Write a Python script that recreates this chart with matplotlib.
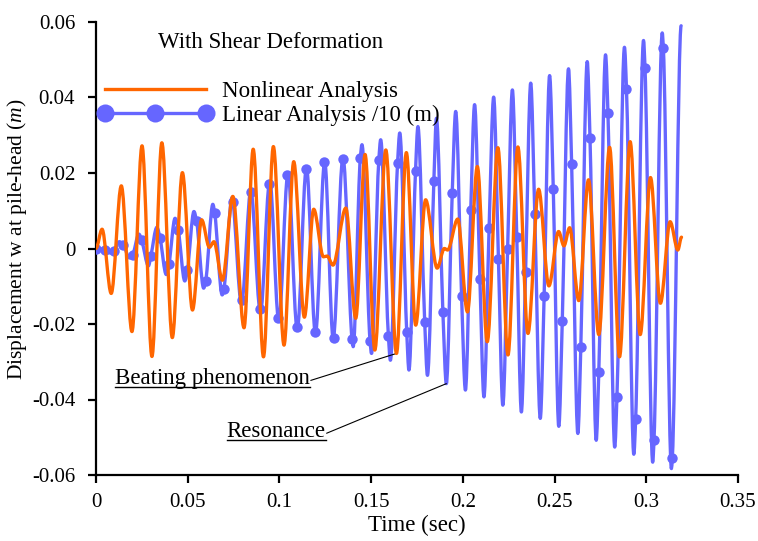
import numpy as np
import matplotlib
matplotlib.use('Agg')
import matplotlib.pyplot as plt
from matplotlib.path import Path
from matplotlib.patches import PathPatch
from matplotlib.lines import Line2D
from matplotlib.transforms import IdentityTransform

plt.rcParams['font.family'] = ['Liberation Serif', 'DejaVu Serif']
plt.rcParams['mathtext.fontset'] = 'custom'
plt.rcParams['mathtext.rm'] = 'Liberation Serif'
plt.rcParams['mathtext.it'] = 'Liberation Serif:italic'
plt.rcParams['axes.unicode_minus'] = False

# ---------------- data ----------------
# Nonlinear analysis: successive turning points (time s, displacement m)
nonlinear_t = [0.0000, 0.0033, 0.0083, 0.0138, 0.0196, 0.0251, 0.0305, 0.0359, 0.0416, 0.0471,
               0.0526, 0.0576, 0.0618, 0.0643, 0.0689, 0.0746, 0.0807, 0.0857, 0.0913, 0.0967,
               0.1025, 0.1078, 0.1136, 0.1187, 0.1240, 0.1260, 0.1292, 0.1362, 0.1416, 0.1467,
               0.1520, 0.1580, 0.1638, 0.1692, 0.1743, 0.1797, 0.1860, 0.1899, 0.1917, 0.1972,
               0.2025, 0.2079, 0.2133, 0.2191, 0.2246, 0.2300, 0.2355, 0.2413, 0.2469, 0.2522,
               0.2551, 0.2582, 0.2632, 0.2685, 0.2741, 0.2800, 0.2854, 0.2912, 0.2967, 0.3023,
               0.3077, 0.3130, 0.3172, 0.3192]
nonlinear_v = [0.0000, 0.0051, -0.0119, 0.0166, -0.0220, 0.0272, -0.0286, 0.0280, -0.0236, 0.0201,
               -0.0163, 0.0076, 0.0003, 0.0018, -0.0084, 0.0138, -0.0210, 0.0263, -0.0287, 0.0270,
               -0.0256, 0.0230, -0.0182, 0.0104, -0.0022, -0.0020, -0.0044, 0.0107, -0.0185, 0.0249,
               -0.0269, 0.0261, -0.0278, 0.0254, -0.0203, 0.0129, -0.0052, 0.0000, -0.0004, 0.0078,
               -0.0168, 0.0217, -0.0247, 0.0267, -0.0282, 0.0269, -0.0225, 0.0157, -0.0099, 0.0045,
               0.0007, 0.0055, -0.0138, 0.0182, -0.0228, 0.0268, -0.0287, 0.0283, -0.0228, 0.0188,
               -0.0145, 0.0071, -0.0004, 0.0030]

# Linear analysis /10: successive turning points
linear_t = [0.0000, 0.0079, 0.0127, 0.0183, 0.0234, 0.0286, 0.0332, 0.0383, 0.0431, 0.0484,
            0.0534, 0.0587, 0.0637, 0.0688, 0.0742, 0.0792, 0.0844, 0.0897, 0.0948, 0.0997,
            0.1047, 0.1098, 0.1148, 0.1197, 0.1247, 0.1293, 0.1347, 0.1402, 0.1450, 0.1502,
            0.1552, 0.1605, 0.1656, 0.1706, 0.1755, 0.1807, 0.1856, 0.1910, 0.1961, 0.2014,
            0.2064, 0.2115, 0.2168, 0.2218, 0.2270, 0.2319, 0.2370, 0.2422, 0.2473, 0.2523,
            0.2576, 0.2627, 0.2678, 0.2727, 0.2778, 0.2828, 0.2881, 0.2932, 0.2985, 0.3035,
            0.3087, 0.3137, 0.3190]
linear_v = [0.0000, -0.0012, 0.0018, -0.0025, 0.0038, -0.0046, 0.0056, -0.0069, 0.0080, -0.0086,
            0.0098, -0.0105, 0.0117, -0.0123, 0.0135, -0.0141, 0.0154, -0.0168, 0.0177, -0.0192,
            0.0199, -0.0212, 0.0213, -0.0223, 0.0230, -0.0238, 0.0239, -0.0260, 0.0275, -0.0278,
            0.0288, -0.0296, 0.0306, -0.0322, 0.0323, -0.0336, 0.0345, -0.0358, 0.0363, -0.0375,
            0.0381, -0.0393, 0.0401, -0.0415, 0.0420, -0.0433, 0.0438, -0.0450, 0.0458, -0.0471,
            0.0476, -0.0490, 0.0495, -0.0508, 0.0513, -0.0526, 0.0533, -0.0545, 0.0551, -0.0566,
            0.0571, -0.0583, 0.0590]

# Linear analysis /10: marker points
marker_t = [0.0000, 0.0050, 0.0100, 0.0149, 0.0199, 0.0249, 0.0299, 0.0349, 0.0398, 0.0448,
            0.0498, 0.0548, 0.0598, 0.0647, 0.0697, 0.0747, 0.0797, 0.0847, 0.0892, 0.0944,
            0.0993, 0.1044, 0.1094, 0.1145, 0.1194, 0.1245, 0.1295, 0.1344, 0.1396, 0.1441,
            0.1494, 0.1542, 0.1594, 0.1644, 0.1694, 0.1742, 0.1792, 0.1842, 0.1891, 0.1942,
            0.1993, 0.2043, 0.2093, 0.2143, 0.2194, 0.2244, 0.2294, 0.2342, 0.2392, 0.2443,
            0.2493, 0.2542, 0.2593, 0.2643, 0.2693, 0.2741, 0.2791, 0.2840, 0.2892, 0.2942,
            0.2993, 0.3042, 0.3093, 0.3142]
marker_v = [0.0000, -0.0003, -0.0006, 0.0009, -0.0018, 0.0022, -0.0020, 0.0028, -0.0040, 0.0050,
            -0.0058, 0.0073, -0.0086, 0.0094, -0.0108, 0.0122, -0.0136, 0.0150, -0.0160, 0.0172,
            -0.0185, 0.0195, -0.0207, 0.0210, -0.0220, 0.0228, -0.0236, 0.0236, -0.0241, 0.0239,
            -0.0244, 0.0235, -0.0231, 0.0226, -0.0221, 0.0206, -0.0195, 0.0180, -0.0167, 0.0146,
            -0.0126, 0.0103, -0.0082, 0.0054, -0.0029, -0.0002, 0.0030, -0.0062, 0.0092, -0.0127,
            0.0157, -0.0192, 0.0225, -0.0262, 0.0294, -0.0328, 0.0358, -0.0393, 0.0423, -0.0452,
            0.0478, -0.0508, 0.0531, -0.0554]

x_ticks = [0, 0.05, 0.1, 0.15, 0.2, 0.25, 0.3, 0.35]
x_tick_labels = ['0', '0.05', '0.1', '0.15', '0.2', '0.25', '0.3', '0.35']
y_ticks = [-0.06, -0.04, -0.02, 0, 0.02, 0.04, 0.06]
y_tick_labels = ['-0.06', '-0.04', '-0.02', '0', '0.02', '0.04', '0.06']

BLUE = '#6666FF'
ORANGE = '#FF6600'


def smooth_path(t, v):
    """Monotone cubic (PCHIP-style) curve through the points, as Bezier segments."""
    t = np.asarray(t, float)
    v = np.asarray(v, float)
    h = np.diff(t)
    d = np.diff(v) / h
    m = np.zeros_like(v)
    for k in range(1, len(v) - 1):
        if d[k - 1] * d[k] > 0:
            w1 = 2 * h[k] + h[k - 1]
            w2 = h[k] + 2 * h[k - 1]
            m[k] = (w1 + w2) / (w1 / d[k - 1] + w2 / d[k])
    verts = [(t[0], v[0])]
    codes = [Path.MOVETO]
    for k in range(len(h)):
        verts += [(t[k] + h[k] / 3, v[k] + m[k] * h[k] / 3),
                  (t[k + 1] - h[k] / 3, v[k + 1] - m[k + 1] * h[k] / 3),
                  (t[k + 1], v[k + 1])]
        codes += [Path.CURVE4] * 3
    return Path(verts, codes)


# merge turning points and markers for the linear curve
pts = {round(a, 5): b for a, b in zip(linear_t, linear_v)}
pts.update({round(a, 5): b for a, b in zip(marker_t, marker_v)})
lin_all_t = sorted(pts)
lin_all_v = [pts[k] for k in lin_all_t]

fig = plt.figure(figsize=(7.58, 5.41), dpi=100)
ax = fig.add_axes([96 / 758, 66 / 541, 642 / 758, 453 / 541])

ax.add_patch(PathPatch(smooth_path(lin_all_t, lin_all_v), facecolor='none',
                       edgecolor=BLUE, lw=2.4, zorder=2, capstyle='round', joinstyle='round'))
ax.plot(marker_t, marker_v, linestyle='none', marker='o', markersize=7.5,
        color=BLUE, markeredgewidth=0, zorder=3)
ax.add_patch(PathPatch(smooth_path(nonlinear_t, nonlinear_v), facecolor='none',
                       edgecolor=ORANGE, lw=2.4, zorder=4, capstyle='round', joinstyle='round'))

ax.set_xlim(0, 0.35)
ax.set_ylim(-0.06, 0.06)
ax.set_xticks(x_ticks)
ax.set_xticklabels(x_tick_labels)
ax.set_yticks(y_ticks)
ax.set_yticklabels(y_tick_labels)
for s in ['top', 'right']:
    ax.spines[s].set_visible(False)
for s in ['left', 'bottom']:
    ax.spines[s].set_linewidth(1.6)
ax.tick_params(direction='out', length=6, width=1.6, labelsize=15)
ax.tick_params(axis='x', pad=7)
ax.tick_params(axis='y', pad=9)

ax.set_xlabel('Time (sec)', fontsize=16.5, labelpad=2)
ax.set_ylabel(r'Displacement w at pile-head ($\mathit{m}$)', fontsize=15.5)
ax.yaxis.set_label_coords(-0.094, 0.52)

ax.text(0.0966, 0.942, 'With Shear Deformation', transform=ax.transAxes,
        fontsize=16.5, ha='left', va='baseline')

handles = [Line2D([], [], color=ORANGE, lw=2.4),
           Line2D([], [], color=BLUE, lw=2.4, marker='o', markersize=13, markeredgewidth=0)]
ax.legend(handles, ['Nonlinear Analysis', 'Linear Analysis /10 (m)'],
          loc='center left', bbox_to_anchor=(0.003, 0.820), frameon=False,
          fontsize=16.5, numpoints=3, handlelength=5.0, handletextpad=0.4,
          labelspacing=0.12, borderpad=0, borderaxespad=0)

fig.canvas.draw()
renderer = fig.canvas.get_renderer()

# keep the y label clear of the tick labels (and inside the figure)
tick_x0 = min(l.get_window_extent(renderer).x0 for l in ax.get_yticklabels())
lab_bb = ax.yaxis.label.get_window_extent(renderer)
ax_w = ax.get_window_extent(renderer).width
shift = (tick_x0 - 3) - lab_bb.x1
if lab_bb.x0 + shift < 1:
    shift = 1 - lab_bb.x0
ax.yaxis.set_label_coords(-0.094 + shift / ax_w, 0.52)

# annotations with underlines and leader lines
notes = [('Beating phenomenon', (0.0103, -0.0360), (0.1638, -0.0278)),
         ('Resonance', (0.0712, -0.0500), (0.1910, -0.0358))]
for label, pos, target in notes:
    txt = ax.text(pos[0], pos[1], label, fontsize=16.5, ha='left', va='baseline', zorder=5)
    bb = txt.get_window_extent(renderer)
    base = ax.transData.transform(pos)[1]
    fig.add_artist(Line2D([bb.x0, bb.x1], [base - 3, base - 3], transform=IdentityTransform(),
                          color='black', lw=1.0))
    ax.annotate('', xy=target, xycoords='data', xytext=(bb.x1 + 1, base + 4),
                textcoords='figure pixels',
                arrowprops=dict(arrowstyle='-', color='black', lw=0.8, shrinkA=0, shrinkB=0))

fig.savefig('out.png', dpi=100)
